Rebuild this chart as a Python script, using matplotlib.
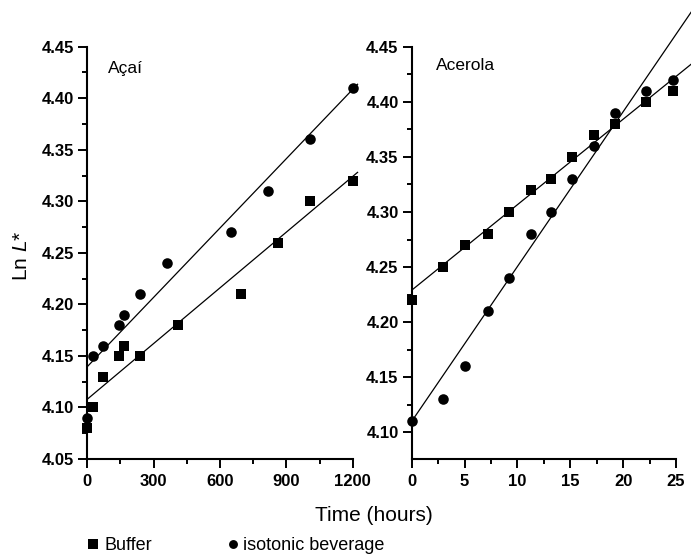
import numpy as np
import matplotlib
matplotlib.use("Agg")
import matplotlib.pyplot as plt
from matplotlib.ticker import MultipleLocator, FormatStrFormatter
from matplotlib.lines import Line2D

plt.rcParams["font.family"] = ["Liberation Sans", "DejaVu Sans"]
plt.rcParams["mathtext.fontset"] = "custom"
plt.rcParams["mathtext.rm"] = "Liberation Sans"
plt.rcParams["mathtext.it"] = "Liberation Sans:italic"

# ---------------------------------------------------------------------------
# Data
# ---------------------------------------------------------------------------
# Acai (hours)
acai_t_buffer = [0, 24, 72, 144, 168, 240, 408, 696, 864, 1008, 1200]
acai_buffer   = [4.08, 4.10, 4.13, 4.15, 4.16, 4.15, 4.18, 4.21, 4.26, 4.30, 4.32]
acai_t_iso    = [0, 24, 72, 144, 168, 240, 360, 648, 816, 1008, 1200]
acai_iso      = [4.09, 4.15, 4.16, 4.18, 4.19, 4.21, 4.24, 4.27, 4.31, 4.36, 4.41]

# Acerola (hours)
acer_t        = [0, 3, 5, 7.2, 9.2, 11.25, 13.2, 15.2, 17.25, 19.25, 22.2, 24.7]
acer_buffer   = [4.22, 4.25, 4.27, 4.28, 4.30, 4.32, 4.33, 4.35, 4.37, 4.38, 4.40, 4.41]
acer_iso      = [4.11, 4.13, 4.16, 4.21, 4.24, 4.28, 4.30, 4.33, 4.36, 4.39, 4.41, 4.42]

# fitted lines as drawn (intercept, slope)
acai_fit_buffer = (4.108, 0.0001801)
acai_fit_iso    = (4.1396, 0.0002242)
acer_fit_buffer = (4.229, 0.00776)
acer_fit_iso    = (4.110, 0.01405)

acai_fit_range = (0, 1222)
acer_fit_range = (0, 26.5)

W, H = 691, 559
fig = plt.figure(figsize=(W / 100, H / 100), dpi=100)


def px_box(x0, y_top, x1, y_bot):
    return [x0 / W, 1 - y_bot / H, (x1 - x0) / W, (y_bot - y_top) / H]


ax1 = fig.add_axes(px_box(87.3, 46.7, 352.7, 459))
ax2 = fig.add_axes(px_box(411.7, 0, 691, 459))

ax1.set_xlim(0, 1200)
ax1.set_ylim(4.05, 4.45)
ax2.set_xlim(0, 25 + 15 / 10.572)
ax2.set_ylim(4.0758, 4.0758 + 459 / 55.09 * 0.05)


def draw_panel(ax, tb, yb, ti, yi, fit_b, fit_i, xr, clip):
    xs = np.array(xr)
    for b0, b1 in (fit_b, fit_i):
        ax.plot(xs, b0 + b1 * xs, color="black", lw=0.9, clip_on=clip, zorder=2)
    ax.plot(tb, yb, "s", color="black", ms=7.6, mew=0, clip_on=False, zorder=3)
    ax.plot(ti, yi, "o", color="black", ms=7.6, mew=0, clip_on=False, zorder=3)


draw_panel(ax1, acai_t_buffer, acai_buffer, acai_t_iso, acai_iso,
           acai_fit_buffer, acai_fit_iso, acai_fit_range, False)
draw_panel(ax2, acer_t, acer_buffer, acer_t, acer_iso,
           acer_fit_buffer, acer_fit_iso, acer_fit_range, True)

ax1.xaxis.set_major_locator(MultipleLocator(300))
ax1.xaxis.set_minor_locator(MultipleLocator(150))
ax1.yaxis.set_major_locator(MultipleLocator(0.05))
ax1.yaxis.set_minor_locator(MultipleLocator(0.025))

ax2.set_xticks([0, 5, 10, 15, 20, 25])
ax2.set_xticks([2.5, 7.5, 12.5, 17.5, 22.5], minor=True)
ax2.set_yticks([4.10, 4.15, 4.20, 4.25, 4.30, 4.35, 4.40, 4.45])
ax2.set_yticks([4.125, 4.175, 4.225, 4.275, 4.325, 4.375, 4.425], minor=True)
ax2.spines["left"].set_bounds(4.0758, 4.45)
ax2.spines["bottom"].set_bounds(0, 25)

for ax in (ax1, ax2):
    for s in ("top", "right"):
        ax.spines[s].set_visible(False)
    for s in ("left", "bottom"):
        ax.spines[s].set_linewidth(1.5)
    ax.patch.set_visible(False)
    ax.tick_params(which="major", direction="out", length=6.5, width=1.4,
                   labelsize=12, pad=3)
    ax.tick_params(axis="x", which="major", pad=4)
    ax.tick_params(which="minor", direction="out", length=3.5, width=1.4)
    ax.yaxis.set_major_formatter(FormatStrFormatter("%.2f"))
    for lab in ax.get_xticklabels() + ax.get_yticklabels():
        lab.set_fontweight("bold")

# panel titles and axis labels
fig.text(108 / W, 1 - 73 / H, "Açaí", fontsize=12.5, va="baseline", ha="left")
fig.text(436 / W, 1 - 70 / H, "Acerola", fontsize=12.5, va="baseline", ha="left")
fig.text(374 / W, 1 - 521 / H, "Time (hours)", fontsize=15, va="baseline", ha="center")
fig.text(22 / W, 1 - 256 / H, r"Ln $L$*", fontsize=15, rotation=90,
         va="center", ha="center")

# legend below the plots
fig.add_artist(Line2D([92.5 / W], [1 - 544 / H], marker="s", color="black",
                      ms=6.8, mew=0, ls="none", transform=fig.transFigure))
fig.add_artist(Line2D([233 / W], [1 - 544 / H], marker="o", color="black",
                      ms=6.4, mew=0, ls="none", transform=fig.transFigure))
fig.text(104 / W, 1 - 550 / H, "Buffer", fontsize=13, va="baseline", ha="left")
fig.text(243 / W, 1 - 550 / H, "isotonic beverage", fontsize=13,
         va="baseline", ha="left")

fig.savefig("out.png", dpi=100)
